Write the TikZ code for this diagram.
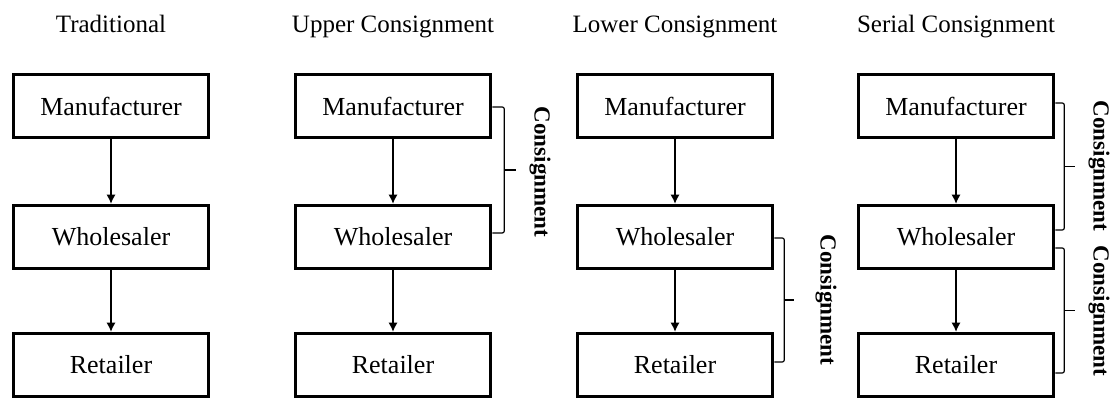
\documentclass[tikz,border=0pt]{standalone}
\usepackage{fontspec}
\setmainfont{Liberation Serif}
\usetikzlibrary{arrows.meta,calc}

\begin{document}
\begin{tikzpicture}[x=0.5pt,y=-0.5pt,
    party/.style={draw, line width=1.75pt, minimum width=97.5pt, minimum height=31.5pt, inner sep=0pt, font=\fontsize{13}{15}\selectfont},
    flow/.style={-{Latex[length=4.5pt,width=4.5pt]}, line width=0.65pt},
    brk/.style={line width=0.6pt, rounded corners=1pt},
    tag/.style={rotate=-90, font=\fontsize{11.5}{13}\selectfont\bfseries},
    heading/.style={anchor=base, font=\fontsize{12.5}{15}\selectfont}]
    \useasboundingbox (0,0) rectangle (1112,400);

    % Headings
    \node[heading] (tt) at (111,33) {Traditional};
    \node[heading] (ut) at (393,33) {Upper Consignment};
    \node[heading] (lt) at (675,33) {Lower Consignment};
    \node[heading] (st) at (956,33) {Serial Consignment};

    % Traditional
    \node[party] (tm) at (111,106) {Manufacturer};
    \node[party] (tw) at (111,237) {Wholesaler};
    \node[party] (tr) at (111,365) {Retailer};
    \draw[flow] (tm) -- (tw);
    \draw[flow] (tw) -- (tr);

    % Upper consignment
    \node[party] (um) at (393,106) {Manufacturer};
    \node[party] (uw) at (393,237) {Wholesaler};
    \node[party] (ur) at (393,365) {Retailer};
    \draw[flow] (um) -- (uw);
    \draw[flow] (uw) -- (ur);

    % Lower consignment
    \node[party] (lm) at (675,106) {Manufacturer};
    \node[party] (lw) at (675,237) {Wholesaler};
    \node[party] (lr) at (675,365) {Retailer};
    \draw[flow] (lm) -- (lw);
    \draw[flow] (lw) -- (lr);

    % Serial consignment
    \node[party] (sm) at (956,106) {Manufacturer};
    \node[party] (sw) at (956,237) {Wholesaler};
    \node[party] (sr) at (956,365) {Retailer};
    \draw[flow] (sm) -- (sw);
    \draw[flow] (sw) -- (sr);

    % Brackets for the consignment links
    \coordinate (ua) at ($(um.east)+(0,1)$);
    \coordinate (ub) at ($(uw.east)+(0,-4)$);
    \draw[brk] (ua) -- ++(12,0) |- (ub);
    \draw[brk] ($(ua)!0.5!(ub)+(12,0)$) -- ++(12,0);
    \node[tag] (uc) at (540,172) {Consignment};

    \coordinate (la) at ($(lw.east)+(0,1)$);
    \coordinate (lb) at ($(lr.east)+(0,-3)$);
    \draw[brk] (la) -- ++(10,0) |- (lb);
    \draw[brk] ($(la)!0.5!(lb)+(10,0)$) -- ++(10,0);
    \node[tag] (lc) at (826,300) {Consignment};

    \coordinate (sa) at ($(sm.east)+(0,-3)$);
    \coordinate (sb) at ($(sw.east)+(0,-7)$);
    \draw[brk] (sa) -- ++(9,0) |- (sb);
    \draw[brk] ($(sa)!0.5!(sb)+(9,0)$) -- ++(11,0);
    \node[tag] (sc) at (1099,166) {Consignment};

    \coordinate (sd) at ($(sw.east)+(0,11)$);
    \coordinate (se) at ($(sr.east)+(0,8)$);
    \draw[brk] (sd) -- ++(9,0) |- (se);
    \draw[brk] ($(sd)!0.5!(se)+(9,0)$) -- ++(11,0);
    \node[tag] (sf) at (1099,311) {Consignment};
\end{tikzpicture}
\end{document}
